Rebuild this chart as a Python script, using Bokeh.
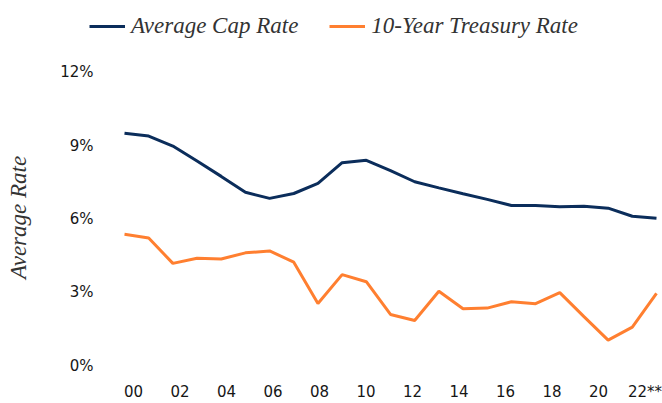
from bokeh.plotting import figure
from bokeh.models import Range1d, FixedTicker, Legend, LegendItem
from bokeh.embed import file_html
from bokeh.resources import INLINE

# ---- data ----
years = list(range(2000, 2023))
cap_rate = [9.51, 9.39, 8.98, 8.37, 7.74, 7.09, 6.84, 7.04, 7.45, 8.30, 8.40,
            7.98, 7.52, 7.27, 7.03, 6.80, 6.55, 6.55, 6.50, 6.52, 6.44, 6.11, 6.03]
treasury = [5.37, 5.22, 4.18, 4.39, 4.36, 4.61, 4.69, 4.23, 2.54, 3.72, 3.43,
            2.09, 1.84, 3.04, 2.32, 2.35, 2.61, 2.53, 2.98, 2.00, 1.04, 1.57, 2.95]
series_names = ["Average Cap Rate", "10-Year Treasury Rate"]
x_tick_labels = ["00", "02", "04", "06", "08", "10", "12", "14", "16", "18", "20", "22**"]
y_ticks = [0, 3, 6, 9, 12]
y_tick_labels = ["0%", "3%", "6%", "9%", "12%"]
y_title = "Average Rate"

NAVY = "#0b2d5b"
ORANGE = "#ff7f30"

# layout geometry (pixels)
W, H = 662, 403
BORDER_L, BORDER_R, BORDER_B = 89, 0, 37
DATA_LEFT_PAD = 35          # px between frame left and first data point
DATA_RIGHT_PAD = 6
PLOT_TOP_PAD = 72           # px between frame top and the 12% level
frame_w = W - BORDER_L - BORDER_R
frame_h = H - BORDER_B
px_per_year = (frame_w - DATA_LEFT_PAD - DATA_RIGHT_PAD) / (years[-1] - years[0])
x0 = years[0] - DATA_LEFT_PAD / px_per_year
x1 = years[-1] + DATA_RIGHT_PAD / px_per_year
y_top = 12 * frame_h / (frame_h - PLOT_TOP_PAD)

p = figure(width=W, height=H, output_backend="svg", toolbar_location=None,
           x_range=Range1d(x0, x1), y_range=Range1d(0, y_top),
           min_border_left=BORDER_L, min_border_right=BORDER_R, min_border_top=0,
           min_border_bottom=BORDER_B)
p.outline_line_color = None
p.grid.visible = False

l1 = p.line(years, cap_rate, line_color=NAVY, line_width=3)
l2 = p.line(years, treasury, line_color=ORANGE, line_width=3)

# tick label placement (evenly spaced as in the reference)
tick_pos = [years[0] + 0.37 + 1.923 * i for i in range(len(x_tick_labels))]
p.xaxis.ticker = FixedTicker(ticks=tick_pos)
p.xaxis.major_label_overrides = {t: lab for t, lab in zip(tick_pos, x_tick_labels)}
p.yaxis.ticker = FixedTicker(ticks=y_ticks)
p.yaxis.major_label_overrides = {t: lab for t, lab in zip(y_ticks, y_tick_labels)}

for ax in (p.xaxis, p.yaxis):
    ax.axis_line_color = None
    ax.major_tick_line_color = None
    ax.minor_tick_line_color = None
    ax.major_tick_out = 0
    ax.major_tick_in = 0
    ax.major_label_text_font = "DejaVu Sans"
    ax.major_label_text_font_size = "15px"
    ax.major_label_text_color = "#161616"

p.xaxis.major_label_standoff = 17
p.yaxis.major_label_standoff = -4

# trailing no-break spaces centre the visible title on the 0-12% span
p.yaxis.axis_label = y_title + "\u00a0" * 12
p.yaxis.axis_label_text_font = "Liberation Serif"
p.yaxis.axis_label_text_font_style = "italic"
p.yaxis.axis_label_text_font_size = "23px"
p.yaxis.axis_label_text_color = "#333333"
p.yaxis.axis_label_standoff = 26

legend = Legend(items=[LegendItem(label=series_names[0], renderers=[l1]),
                       LegendItem(label=series_names[1], renderers=[l2])],
                location=(0, frame_h - 40), orientation="horizontal")
legend.label_text_font = "Liberation Serif"
legend.label_text_font_style = "italic"
legend.label_text_font_size = "23px"
legend.label_text_color = "#333333"
legend.glyph_width = 36
legend.glyph_height = 20
legend.label_standoff = 6
legend.spacing = 31
legend.padding = 0
legend.margin = 0
legend.border_line_color = None
legend.background_fill_alpha = 0
p.add_layout(legend, "center")

open("out.html", "w").write(file_html(p, INLINE))
